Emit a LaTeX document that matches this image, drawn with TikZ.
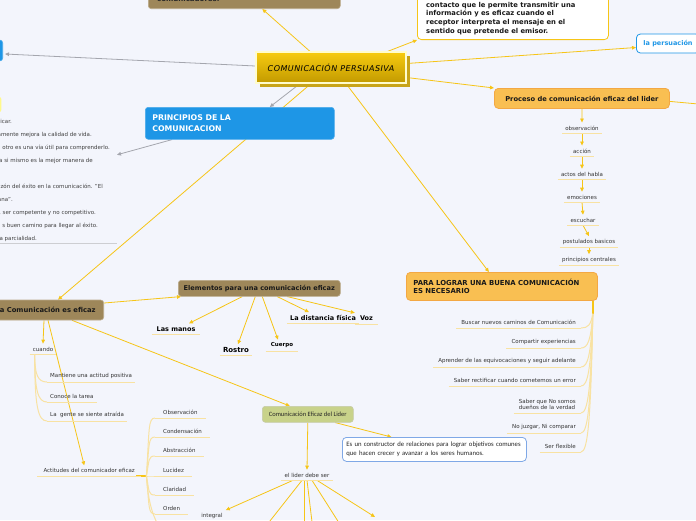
\documentclass[tikz,border=0pt]{standalone}
\usepackage{fontspec}
\setmainfont{DejaVu Sans}
\newfontfamily\carlito{Carlito}
\newfontfamily\titulo[LetterSpace=6]{DejaVu Sans}
\usetikzlibrary{positioning,arrows.meta,shadows}

\definecolor{fondo}{HTML}{F3F5FC}
\definecolor{amarillo}{HTML}{F6C517}
\definecolor{subraya}{HTML}{F8E2A2}
\definecolor{gris}{HTML}{A4A6AE}
\definecolor{cafe}{HTML}{9E875A}
\definecolor{azul}{HTML}{1E96E6}
\definecolor{azulclaro}{HTML}{7FA8E6}
\definecolor{naranja}{HTML}{F9BF52}
\definecolor{naranjaborde}{HTML}{F3A844}
\definecolor{oliva}{HTML}{C8D28A}
\definecolor{oroclaro}{HTML}{F7CB10}
\definecolor{oroscuro}{HTML}{C29A00}

\pgfdeclarelayer{fondo}
\pgfdeclarelayer{conectores}
\pgfsetlayers{fondo,conectores,main}

\tikzset{
  conn/.style={amarillo, line width=0.8pt, -{Triangle[length=4pt,width=3.6pt]}},
  conngris/.style={gris, line width=0.8pt, -{Triangle[length=4pt,width=3.6pt]}},
  linea/.style={amarillo, line width=0.8pt},
  rama/.style={subraya, line width=1pt},
  hoja/.style={font=\fontsize{5.5}{6.6}\selectfont, text=black!80, inner xsep=3pt, inner ysep=3pt,
    append after command={(\tikzlastnode.south west) edge[rama] (\tikzlastnode.south east)}},
  hojabold/.style={hoja, font=\bfseries\fontsize{6.5}{7.8}\selectfont, text=black},
  cajacafe/.style={rounded corners=3pt, fill=cafe, draw=cafe!70!white, line width=0.6pt,
    text=black!90, font=\bfseries\fontsize{6.6}{8}\selectfont, minimum height=16pt},
  cajaazul/.style={rounded corners=3pt, fill=azul, draw=azul!80!white, line width=0.6pt},
  cajablanca/.style={rounded corners=4pt, fill=white, line width=0.8pt},
  cajanaranja/.style={rounded corners=4pt, fill=naranja, draw=naranjaborde, line width=0.8pt,
    text=black!90, font=\bfseries\fontsize{6.7}{8}\selectfont},
  nota/.style={font=\fontsize{5.5}{6.6}\selectfont, text=black!75, inner sep=0pt}
}

\begin{document}
\begin{tikzpicture}[x=1pt, y=-1pt]
\useasboundingbox (0,0) rectangle (696,520);
\begin{pgfonlayer}{fondo}
\fill[fondo] (0,0) rectangle (696,520);
\end{pgfonlayer}
\clip (0,0) rectangle (696,520);

% idea central
\node[top color=oroclaro, bottom color=oroscuro, draw=yellow!20!white, line width=1.2pt,
  minimum width=150pt, minimum height=31pt, font=\titulo\itshape\fontsize{8}{9}\selectfont,
  drop shadow={shadow xshift=3.5pt, shadow yshift=-3.5pt, fill=oroscuro!90, opacity=1}]
  (centro) at (331,67.5) {COMUNICACIÓN PERSUASIVA};

% ramas de arriba
\node[cajacafe, anchor=south west, minimum width=192pt, minimum height=30pt] (comunicadores) at (148,9) {};
\node[anchor=base west, font=\bfseries\fontsize{7}{8}\selectfont, text=black!85, inner sep=0pt] (comunicadorestxt) at (157,1.5) {comunicadores.};
\node[cajablanca, draw=amarillo, anchor=south west, minimum width=191pt, minimum height=60pt] (contacto) at (417,40) {};
\node[anchor=south west, align=left, inner sep=0pt, text=black!90, font=\bfseries\fontsize{6.8}{8.7}\selectfont] (contactotxt) at (426,34.8)
  {contacto que le permite transmitir una\\información y es eficaz cuando el\\receptor interpreta el mensaje en el\\sentido que pretende el emisor.};
\node[cajablanca, draw=azul, anchor=west, minimum height=19pt, inner xsep=7pt, text=azul,
  font=\bfseries\fontsize{6.5}{8}\selectfont] (persuacion) at (636,43.5) {la persuación};

% ramas de la izquierda
\node[cajaazul, anchor=east, minimum width=60pt, minimum height=21pt] (izq) at (3,50.5) {};
\node[fill=yellow!45!white, rounded corners=2pt, anchor=east, minimum width=30pt, minimum height=15pt] (amarilloizq) at (1.5,104.5) {};
\node[cajaazul, anchor=north west, text width=175pt, minimum height=32pt, inner xsep=7pt, align=left,
  text=white, font=\bfseries\fontsize{7.8}{11}\selectfont] (principios) at (145,107) {PRINCIPIOS DE LA\\COMUNICACION};
\node[minimum width=150pt, minimum height=130pt, anchor=south east, inner sep=0pt] (notas) at (117,243) {};
\foreach \x/\y/\t [count=\i] in {12/123/{icar.}, 92/136/{amente mejora la calidad de vida.},
  110/149/{otro es una vía útil para comprenderlo.}, 93/162/{a si mismo es la mejor manera de},
  103/188/{zón del éxito en la comunicación. "El}, 13/201/{ana".},
  96/214/{, ser competente y no competitivo.}, 98/227/{s buen camino para llegar al éxito.},
  37/240/{a parcialidad.}}
  \node[nota, anchor=base east] (nota\i) at (\x,\y) {\t};
\draw[gris!55, line width=0.8pt] (notas.south west) -- (notas.south east);

% proceso
\node[cajanaranja, anchor=north west, minimum width=175pt, minimum height=20pt] (proceso) at (494,88) {Proceso de comunicación eficaz del lider};
\coordinate (procesofuera) at (720,106);
\node[hoja] (observacion) at (582,128) {observación};
\node[hoja] (accion) at (582,151) {acción};
\node[hoja] (actos) at (582,174) {actos del habla};
\node[hoja] (emociones) at (582,197) {emociones};
\node[hoja] (escuchar) at (583,220) {escuchar};
\node[hoja] (postulados) at (589,242) {postulados basicos};
\node[hoja] (centrales) at (589,260) {principios centrales};

% para lograr
\node[cajanaranja, anchor=north west, text width=177pt, minimum height=28pt, inner xsep=7pt, align=left,
  font=\bfseries\fontsize{6.9}{8.2}\selectfont] (para) at (406,272) {PARA LOGRAR UNA BUENA COMUNICACIÓN\\ES NECESARIO};
\coordinate (paratronco) at ([xshift=-5pt,yshift=-13pt]para.south east);
\node[hoja, anchor=south east, inner xsep=5pt] (buscar) at (581,328) {Buscar nuevos caminos de Comunicación};
\node[hoja, anchor=south east, inner xsep=5pt] (compartir) at (581,348) {Compartir experiencias};
\node[hoja, anchor=south east, inner xsep=5pt] (aprender) at (581,367) {Aprender de las equivocaciones y seguir adelante};
\node[hoja, anchor=south east, inner xsep=5pt] (rectificar) at (581,386) {Saber rectificar cuando cometemos un error};
\node[hoja, anchor=south east, inner xsep=5pt, align=left] (saber) at (581,413) {Saber que No somos\\dueños de la verdad};
\node[hoja, anchor=south east, inner xsep=5pt] (juzgar) at (581,433) {No juzgar, Ni comparar};
\node[hoja, anchor=south east, inner xsep=5pt] (flexible) at (581,452) {Ser flexible};

% la comunicacion es eficaz
\node[cajacafe, anchor=east, minimum height=20pt, inner xsep=8pt, font=\bfseries\fontsize{6.8}{8}\selectfont] (eficaz) at (104,310) {la Comunicación es eficaz};
\node[cajacafe, anchor=north west, minimum width=162pt, minimum height=16pt] (elementos) at (178,280) {Elementos para una comunicación eficaz};
\node[hojabold, inner xsep=4.5pt] (manos) at (176,329) {Las manos};
\node[hojabold, font=\bfseries\fontsize{7}{8}\selectfont] (rostro) at (236,350) {Rostro};
\node[hojabold, font=\bfseries\fontsize{5.5}{6.6}\selectfont, inner xsep=5pt] (cuerpo) at (282,345.5) {Cuerpo};
\node[hojabold] (distancia) at (323,318) {La distancia física};
\node[hojabold, inner xsep=5pt] (voz) at (366.5,318.5) {Voz};

\node[hoja] (cuando) at (43,349) {cuando};
\coordinate (cuandotronco) at ([xshift=5pt]cuando.south west);
\node[hoja, anchor=south west] (mantiene) at (47,382) {Mantiene una actitud positiva};
\node[hoja, anchor=south west] (conoce) at (47,402) {Conoce la tarea};
\node[hoja, anchor=south west] (gente) at (47,421) {La \ gente se siente atraída};

\node[hoja, anchor=south west, minimum width=104pt] (actitudes) at (37,476) {Actitudes del comunicador eficaz};
\coordinate (acttronco) at ([xshift=5pt]actitudes.south east);
\coordinate (actfin) at (172,536);
\node[hoja, anchor=south west, inner xsep=8pt] (observ) at (155,418) {Observación};
\node[hoja, anchor=south west, inner xsep=8pt] (condensa) at (155,437) {Condensación};
\node[hoja, anchor=south west, inner xsep=8pt] (abstrae) at (155,456) {Abstracción};
\node[hoja, anchor=south west, inner xsep=8pt] (lucidez) at (155,476) {Lucidez};
\node[hoja, anchor=south west, inner xsep=8pt] (claridad) at (155,495) {Claridad};
\node[hoja, anchor=south west, inner xsep=8pt] (orden) at (155,514) {Orden};

% lider
\node[rounded corners=3pt, fill=oliva, draw=oliva!80!black!60, line width=0.6pt, anchor=north west,
  minimum width=91pt, minimum height=16pt, font=\carlito\fontsize{6.5}{7}\selectfont, text=black!85] (lidereficaz) at (262,406) {Comunicación Eficaz del Lider};
\node[cajablanca, draw=azulclaro, anchor=north west, text width=176pt, minimum height=24pt, inner xsep=4pt, align=left,
  font=\carlito\fontsize{6.7}{9}\selectfont, text=black!85] (constructor) at (342,437)
  {Es un constructor de relaciones para lograr objetivos comunes\\que hacen crecer y avanzar a los seres humanos.};
\node[hoja] (liderdebe) at (307,475) {el lider debe ser};
\node[hoja] (integral) at (212,516) {integral};
\coordinate (ld1) at (266,526);
\coordinate (ld2) at (304,526);
\coordinate (ld3) at (312.5,526);
\coordinate (ld4) at (341,526);
\coordinate (ld5) at (375,517);

\begin{pgfonlayer}{conectores}
\draw[conn] ([xshift=-21pt]centro.north) -- ([xshift=18pt]comunicadores.south);
\draw[conn] ([xshift=-19pt]centro.north east) -- (contacto.south west);
\draw[conn] ([yshift=4pt]centro.east) -- ([yshift=-4pt]persuacion.west);
\draw[conn] ([yshift=-10pt]centro.east) -- (proceso.north west);
\draw[conngris] ([yshift=1.5pt]centro.west) -- ([xshift=2pt,yshift=-3.5pt]izq.east);
\draw[conngris] ([xshift=-31pt]centro.south) -- ([xshift=30pt]principios.north);
\draw[conngris] ([xshift=27pt]principios.south west) -- ([yshift=23pt]notas.east);
\draw[conn] ([xshift=-20pt]centro.south) -- ([xshift=-46pt]eficaz.north east);
\draw[conn] ([xshift=15pt]centro.south) -- ([xshift=-13pt]para.north);

\draw[linea] ([yshift=-3pt]proceso.east) -- (procesofuera);
\draw[conn] (proceso.south) -- (observacion.north);
\draw[conn] (observacion.south) -- (accion.north);
\draw[conn] (accion.south) -- (actos.north);
\draw[conn] (actos.south) -- (emociones.north);
\draw[conn] (emociones.south) -- (escuchar.north);
\draw[conn] (escuchar.south) -- (postulados.north);
\draw[conn] (postulados.south) -- (centrales.north);

\draw[amarillo, line width=2pt] ([xshift=-5pt]para.south east) -- (paratronco);
\foreach \n/\d in {buscar/15, compartir/35, aprender/54, rectificar/73, saber/100, juzgar/120, flexible/139}
  \draw[rama] (paratronco) .. controls +(-2,{0.75*\d}) and +(7,0) .. (\n.south east);

\draw[conn] ([yshift=7pt]eficaz.east) -- ([xshift=3pt]elementos.south west);
\draw[conn] ([xshift=-60pt]eficaz.south east) -- (cuando.north);
\draw[conn] ([xshift=-56pt]eficaz.south east) -- ([xshift=-5pt]actitudes.north);
\draw[conn] ([xshift=-32pt]eficaz.south east) -- ([xshift=-18pt]lidereficaz.north);

\draw[conn] ([xshift=-17pt]elementos.south) -- ([xshift=13pt]manos.north);
\draw[conn] ([xshift=-4pt]elementos.south) -- ([xshift=2pt]rostro.north);
\draw[conn] ([xshift=3pt]elementos.south) -- ([xshift=-4pt]cuerpo.north);
\draw[conn] ([xshift=18pt]elementos.south) -- ([xshift=-14pt]distancia.north);
\draw[conn] ([xshift=28pt]elementos.south) -- (voz.north west);

\foreach \n/\d in {mantiene/26, conoce/46, gente/65}
  \draw[rama] (cuandotronco) .. controls +(0,{0.8*\d}) and +(-9,0) .. (\n.south west);

\draw[amarillo, line width=1.5pt] ([xshift=-5pt]actitudes.south east) -- (acttronco);
\foreach \n/\d in {observ/-58, condensa/-39, abstrae/-20, lucidez/0, claridad/19, orden/38, actfin/60}
  \draw[rama] (acttronco) .. controls +(3,{0.8*\d}) and +(-7,0) .. (\n.south west);

\draw[conn] (lidereficaz.south) -- (liderdebe.north);
\draw[conn] ([xshift=27.5pt]lidereficaz.south) -- ([xshift=-43pt]constructor.north);
\draw[conn] ([xshift=-14pt]liderdebe.south) -- (integral.north east);
\draw[linea] ([xshift=-5pt]liderdebe.south) -- (ld1);
\draw[linea] ([xshift=-3pt]liderdebe.south) -- (ld2);
\draw[linea] ([xshift=0pt]liderdebe.south) -- (ld3);
\draw[linea] ([xshift=5pt]liderdebe.south) -- (ld4);
\draw[conn] ([xshift=10pt]liderdebe.south) -- (ld5);
\end{pgfonlayer}
\end{tikzpicture}
\end{document}
